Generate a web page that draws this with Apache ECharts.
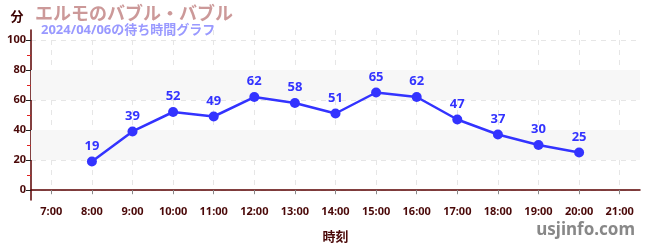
<!DOCTYPE html>
<html><head><meta charset="utf-8">
<script src="https://cdn.jsdelivr.net/npm/echarts@6/dist/echarts.min.js"></script>
<style>html,body{margin:0;padding:0;background:#fff}#c{width:650px;height:250px}</style>
</head><body><div id="c"></div>
<script>
const hours = [8, 9, 10, 11, 12, 13, 14, 15, 16, 17, 18, 19, 20];
const waits = [19, 39, 52, 49, 62, 58, 51, 65, 62, 47, 37, 30, 25];
const xTicks = [7, 8, 9, 10, 11, 12, 13, 14, 15, 16, 17, 18, 19, 20, 21];
const yTicks = [0, 20, 40, 60, 80, 100];
const yMinorTicks = [10, 30, 50, 70, 90];
const bands = [[20, 40], [60, 80]];
const titleText = 'エルモのバブル・バブル';
const subText = '2024/04/06の待ち時間グラフ';

const font = '"Noto Sans", "Noto Sans CJK JP", sans-serif';
const labelColor = '#4a0808';
const axisColor = '#5a0000';
const chart = echarts.init(document.getElementById('c'));
chart.setOption({
  animation: false,
  textStyle: { fontFamily: font },
  title: [{
    text: titleText, left: 30, top: 1,
    textStyle: { color: '#cc9999', fontSize: 18, fontWeight: 'bold', fontFamily: font }
  }, {
    text: subText, left: 36, top: 22, padding: [2, 5],
    textStyle: { color: '#9999ff', fontSize: 13, fontWeight: 'bold', fontFamily: font }
  }],
  grid: { left: 31, right: 10, top: 30, bottom: 50, containLabel: false },
  xAxis: {
    type: 'value', min: 6.5, max: 21.5,
    name: '時刻', nameLocation: 'middle', nameGap: 31,
    nameTextStyle: { color: labelColor, fontWeight: 'bold', fontSize: 13, fontFamily: font },
    axisLine: { show: true, lineStyle: { color: axisColor, width: 1.5 } },
    axisTick: { show: true, customValues: xTicks, length: 4, lineStyle: { color: '#888' } },
    axisLabel: { customValues: xTicks, formatter: v => v + ':00', color: labelColor, fontSize: 11, fontWeight: 'bold', margin: 6 },
    splitLine: { show: true, lineStyle: { color: '#e6e6e6', type: [5, 5] } }
  },
  yAxis: [{
    type: 'value', min: -6.7, max: 106.7,
    name: '分', nameLocation: 'end', nameGap: 6,
    nameTextStyle: { color: '#3a0000', fontWeight: 'bold', fontSize: 13, align: 'center', padding: [0, 28, 0, 0], fontFamily: font },
    axisLine: { show: true, lineStyle: { color: axisColor, width: 1.5 } },
    axisTick: { show: true, customValues: yTicks, length: 5, lineStyle: { color: '#222' } },
    axisLabel: { customValues: yTicks, color: labelColor, fontSize: 11, fontWeight: 'bold', margin: 5 },
    splitLine: { show: true, lineStyle: { color: '#e6e6e6', type: [5, 5] } }
  }, {
    type: 'value', min: -6.7, max: 106.7, position: 'left',
    axisLine: { show: false },
    axisTick: { show: true, customValues: yMinorTicks, length: 4, lineStyle: { color: '#e02020', width: 1 } },
    axisLabel: { show: false },
    splitLine: { show: false }
  }],
  graphic: [{
    type: 'text', right: 15, top: 222,
    style: { text: 'usjinfo.com', fill: '#888', font: 'bold 17px "Noto Sans", sans-serif' }
  }],
  series: [{
    type: 'line',
    data: hours.map((h, i) => [h, waits[i]]),
    symbol: 'circle', symbolSize: 10,
    lineStyle: { color: '#3333ff', width: 2.5 },
    itemStyle: { color: '#3333ff' },
    label: { show: true, position: 'top', distance: 4, color: '#3333ff', fontWeight: 'bold', fontSize: 13, fontFamily: font },
    markArea: {
      silent: true,
      itemStyle: { color: '#f7f7f7' },
      data: bands.map(b => [{ yAxis: b[0] }, { yAxis: b[1] }])
    },
    z: 5
  }]
});
</script></body></html>
